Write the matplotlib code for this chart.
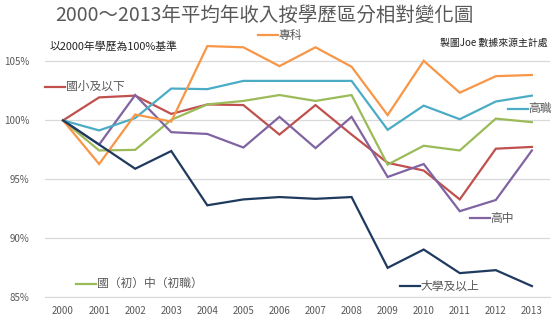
import matplotlib
matplotlib.use("Agg")
import matplotlib.pyplot as plt
from matplotlib.ticker import FuncFormatter

plt.rcParams['font.family'] = ['Noto Sans CJK TC', 'DejaVu Sans']

years = [str(y) for y in range(2000, 2014)]

zhuanke = [100, 96.3, 100.5, 99.9, 106.3, 106.2, 104.6, 106.2, 104.55, 100.45, 105.05, 102.35, 103.75, 103.85]
gaozhi = [100, 99.15, 100.2, 102.7, 102.65, 103.35, 103.35, 103.35, 103.35, 99.2, 101.25, 100.1, 101.6, 102.1]
guozhong = [100, 97.45, 97.5, 100.05, 101.35, 101.65, 102.15, 101.65, 102.15, 96.25, 97.85, 97.45, 100.15, 99.85]
guoxiao = [100, 101.95, 102.1, 100.55, 101.35, 101.3, 98.8, 101.3, 98.8, 96.4, 95.75, 93.3, 97.6, 97.75]
gaozhong = [100, 97.95, 102.15, 99.0, 98.85, 97.7, 100.3, 97.65, 100.3, 95.2, 96.3, 92.3, 93.25, 97.45]
daxue = [100, 97.95, 95.9, 97.4, 92.8, 93.3, 93.5, 93.35, 93.5, 87.5, 89.05, 87.05, 87.3, 85.95]

series = [
    ("國小及以下", guoxiao, "#C0504D"),
    ("國（初）中（初職）", guozhong, "#9BBB59"),
    ("高中", gaozhong, "#8064A2"),
    ("高職", gaozhi, "#4BACC6"),
    ("專科", zhuanke, "#F79646"),
    ("大學及以上", daxue, "#1F3A5F"),
]

# series name tags: (short line start x in category units, y in percent)
label_pos = {
    "專科": (5.4, 107.2),
    "國小及以下": (-0.5, 102.87),
    "高職": (12.34, 100.99),
    "高中": (11.28, 91.71),
    "大學及以上": (9.34, 85.98),
    "國（初）中（初職）": (0.36, 86.15),
}

fig = plt.figure(figsize=(5.6, 3.23), dpi=100)
ax = fig.add_axes([0.0804, 0.0796, 0.9016, 0.785])

x = list(range(len(years)))
for name, vals, color in series:
    ax.plot(x, vals, color=color, lw=1.6, solid_joinstyle='miter', clip_on=False, zorder=3)

for name, vals, color in series:
    lx, ly = label_pos[name]
    ax.plot([lx, lx + 0.55], [ly, ly], color=color, lw=1.6, clip_on=False, zorder=3)
    ax.text(lx + 0.57, ly, name, color="#595959", fontsize=8.5, va='center', ha='left')

ax.set_xlim(-0.5, len(years) - 0.5)
ax.set_ylim(85, 106.5)
ax.set_yticks([85, 90, 95, 100, 105])
ax.yaxis.set_major_formatter(FuncFormatter(lambda v, p: f"{v:.0f}%"))
ax.set_xticks(x)
ax.set_xticklabels(years)
ax.grid(axis='y', color="#D9D9D9", lw=0.9)
ax.set_axisbelow(True)
for s in ['top', 'right', 'left']:
    ax.spines[s].set_visible(False)
ax.spines['bottom'].set_color("#D9D9D9")
ax.tick_params(axis='both', length=0, labelsize=7, colors="#595959")
ax.tick_params(axis='y', pad=11)
ax.tick_params(axis='x', pad=6)

fig.text(0.473, 0.953, "2000～2013年平均年收入按學歷區分相對變化圖", ha='center', va='center',
         fontsize=14, color="#595959")
fig.text(0.088, 0.855, "以2000年學歷為100%基準", ha='left', va='center', fontsize=7.8, color="#222222")
fig.text(0.785, 0.867, "製圖Joe 數據來源主計處", ha='left', va='center', fontsize=7.1, color="#222222")

fig.savefig("out.png", dpi=100)
